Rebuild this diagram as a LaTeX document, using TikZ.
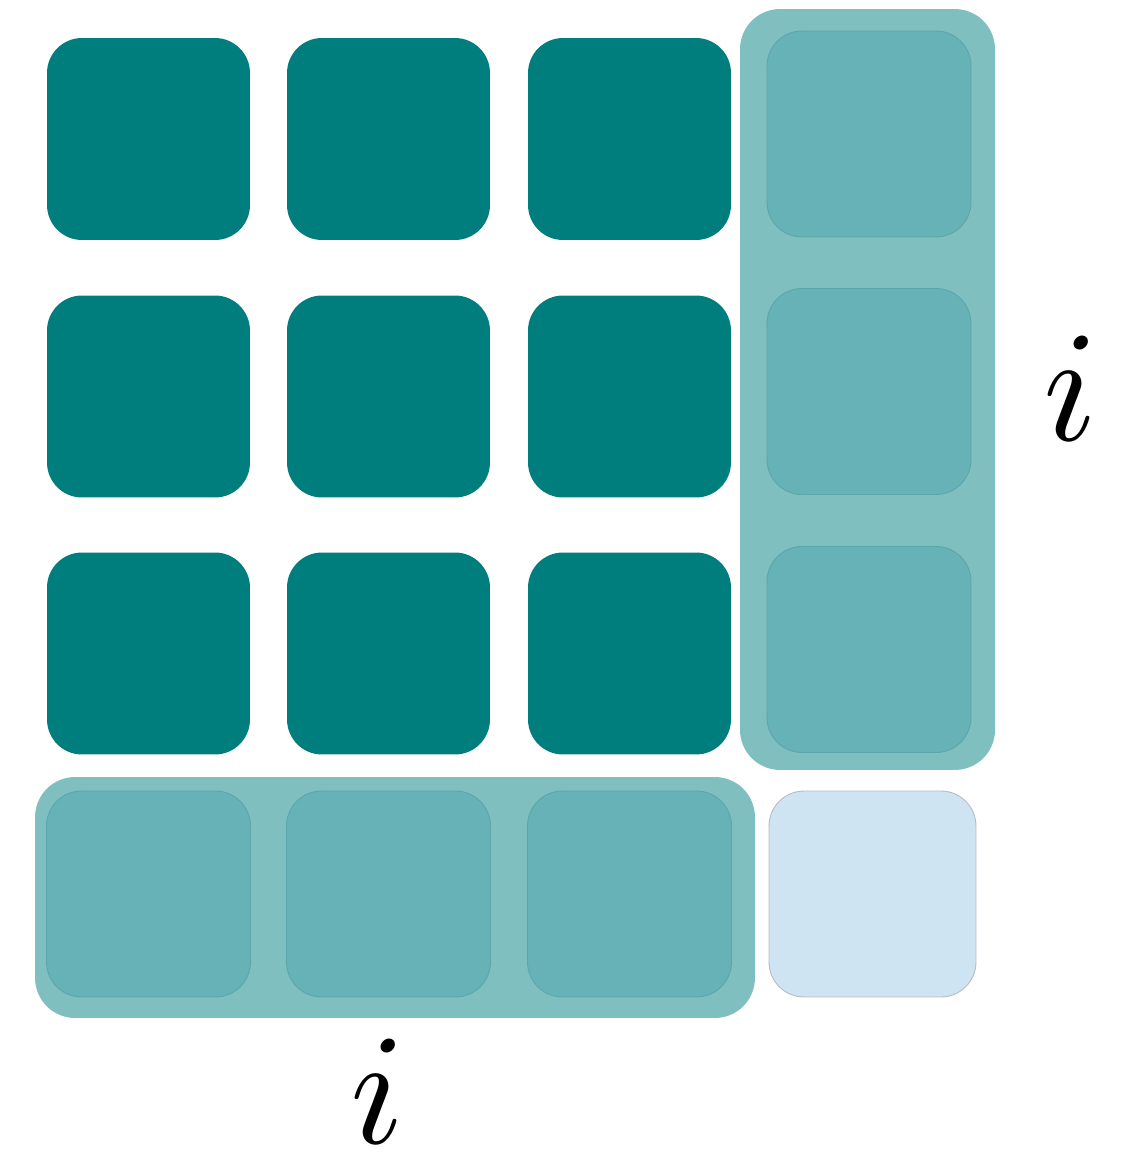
\documentclass[tikz,border=0pt]{standalone}
\usepackage{graphicx}
\definecolor{darkteal}{HTML}{007E7E}
\definecolor{innerteal}{HTML}{66B2B7}
\definecolor{innerline}{HTML}{5AA6AC}
\definecolor{outerteal}{HTML}{80BFBF}
\definecolor{paleblue}{HTML}{CFE4F2}
\definecolor{paleline}{HTML}{B4BCC4}
\begin{document}
\begin{tikzpicture}[x=0.02cm,y=-0.02cm]
\tikzset{
  darksq/.style={rectangle, rounded corners=0.7cm, fill=darkteal, draw=none,
    minimum width=4.06cm, minimum height=4.04cm, inner sep=0pt},
  innersq/.style={rectangle, rounded corners=0.7cm, fill=innerteal, draw=innerline, line width=0.5pt,
    minimum width=4.08cm, minimum height=4.12cm, inner sep=0pt},
  outerbox/.style={rectangle, rounded corners=0.8cm, fill=outerteal, draw=none, inner sep=0pt},
  palesq/.style={rectangle, rounded corners=0.7cm, fill=paleblue, draw=paleline, line width=0.5pt,
    minimum width=4.14cm, minimum height=4.12cm, inner sep=0pt},
  lbl/.style={inner sep=0pt}
}
\useasboundingbox (0,0) rectangle (1127,1158);
\fill[white] (0,0) rectangle (1127,1158);
% outer light boxes
\node[outerbox, minimum width=5.10cm, minimum height=15.22cm] (colbox) at (867.5,389.5) {};
\node[outerbox, minimum width=14.40cm, minimum height=4.82cm] (rowbox) at (395,897.5) {};
% dark squares
\node[darksq] (a11) at (148.5,139) {};
\node[darksq] (a12) at (388.5,139) {};
\node[darksq] (a13) at (629.5,139) {};
\node[darksq] (a21) at (148.5,396.5) {};
\node[darksq] (a22) at (388.5,396.5) {};
\node[darksq] (a23) at (629.5,396.5) {};
\node[darksq] (a31) at (148.5,653.5) {};
\node[darksq] (a32) at (388.5,653.5) {};
\node[darksq] (a33) at (629.5,653.5) {};
% column squares
\node[innersq] (a14) at (869,134) {};
\node[innersq] (a24) at (869,391.5) {};
\node[innersq] (a34) at (869,649.5) {};
% row squares
\node[innersq] (a41) at (148.5,894) {};
\node[innersq] (a42) at (388.5,894) {};
\node[innersq] (a43) at (629.5,894) {};
% corner square
\node[palesq] (a44) at (872.5,894) {};
% labels
\node[lbl] (li) at (1071,388) {\scalebox{9}{$i$}};
\node[lbl] (bi) at (378,1091) {\scalebox{9}{$i$}};
\end{tikzpicture}
\end{document}
